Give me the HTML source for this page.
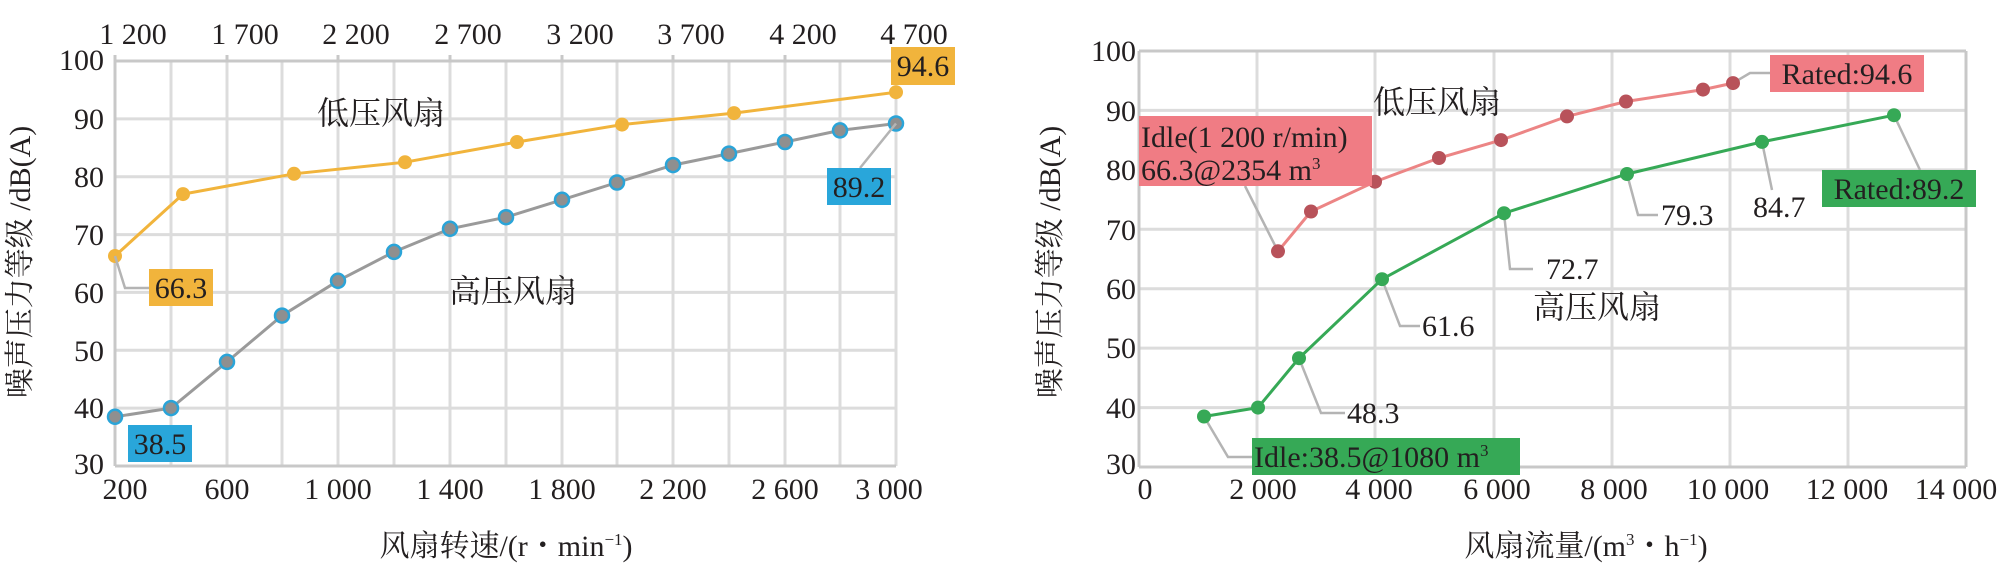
<!DOCTYPE html>
<html><head><meta charset="utf-8"><style>
html,body{margin:0;padding:0;background:#fff;}
svg{display:block;}
text{font-family:"Liberation Serif","Noto Serif CJK SC","Noto Sans CJK SC",serif;fill:#231f20;}
.t{font-size:30px;}
.c{font-size:32px;}
.g{stroke:#dcdcdc;stroke-width:3;fill:none;}
.ax{stroke:#c8c8c8;stroke-width:3;fill:none;}
.ld{stroke:#b4b4b4;stroke-width:2.5;fill:none;}
</style></head><body>
<svg width="2008" height="567" viewBox="0 0 2008 567" xmlns="http://www.w3.org/2000/svg">
<!-- LEFT CHART -->
<g>
<g class="g">
<line x1="115" y1="118.9" x2="896" y2="118.9"/><line x1="115" y1="176.7" x2="896" y2="176.7"/>
<line x1="115" y1="234.6" x2="896" y2="234.6"/><line x1="115" y1="292.4" x2="896" y2="292.4"/>
<line x1="115" y1="350.3" x2="896" y2="350.3"/><line x1="115" y1="408.1" x2="896" y2="408.1"/>
<line x1="171" y1="61" x2="171" y2="466"/><line x1="227" y1="61" x2="227" y2="466"/>
<line x1="282" y1="61" x2="282" y2="466"/><line x1="338" y1="61" x2="338" y2="466"/>
<line x1="394" y1="61" x2="394" y2="466"/><line x1="450" y1="61" x2="450" y2="466"/>
<line x1="506" y1="61" x2="506" y2="466"/><line x1="562" y1="61" x2="562" y2="466"/>
<line x1="617" y1="61" x2="617" y2="466"/><line x1="673" y1="61" x2="673" y2="466"/>
<line x1="729" y1="61" x2="729" y2="466"/><line x1="785" y1="61" x2="785" y2="466"/>
<line x1="840" y1="61" x2="840" y2="466"/><line x1="896" y1="61" x2="896" y2="466"/>
</g>
<g class="ax">
<line x1="115" y1="61" x2="896" y2="61"/><line x1="115" y1="466" x2="896" y2="466"/>
<line x1="115" y1="55" x2="115" y2="466"/>
<line x1="227" y1="55" x2="227" y2="61"/><line x1="338" y1="55" x2="338" y2="61"/>
<line x1="450" y1="55" x2="450" y2="61"/><line x1="562" y1="55" x2="562" y2="61"/>
<line x1="673" y1="55" x2="673" y2="61"/><line x1="785" y1="55" x2="785" y2="61"/>
<line x1="896" y1="55" x2="896" y2="61"/>
</g>
<g class="t" text-anchor="end">
<text x="104" y="70">100</text><text x="104" y="129">90</text><text x="104" y="187">80</text>
<text x="104" y="245">70</text><text x="104" y="303">60</text><text x="104" y="361">50</text>
<text x="104" y="418">40</text><text x="104" y="474">30</text>
</g>
<g class="t" text-anchor="middle">
<text x="125" y="499">200</text><text x="227" y="499">600</text><text x="338" y="499">1 000</text>
<text x="450" y="499">1 400</text><text x="562" y="499">1 800</text><text x="673" y="499">2 200</text>
<text x="785" y="499">2 600</text><text x="889" y="499">3 000</text>
<text x="133" y="44">1 200</text><text x="245" y="44">1 700</text><text x="356" y="44">2 200</text>
<text x="468" y="44">2 700</text><text x="580" y="44">3 200</text><text x="691" y="44">3 700</text>
<text x="803" y="44">4 200</text><text x="914" y="44">4 700</text>
<text x="506" y="556">风扇转速/(r・min<tspan font-size="17" dy="-11">−1</tspan><tspan dy="11">)</tspan></text>
</g>
<text class="t" text-anchor="middle" transform="translate(30,262) rotate(-90)">噪声压力等级 /dB(A)</text>
<text class="c" x="317" y="124">低压风扇</text>
<text class="c" x="449" y="302">高压风扇</text>
<polyline fill="none" stroke="#f1b43c" stroke-width="3" points="115,256 183,194.1 294,173.8 405,162.2 517,142 622,124.6 734,113.1 896,92.2"/>
<g fill="#f1b43c">
<circle cx="115" cy="256" r="7"/><circle cx="183" cy="194.1" r="7"/><circle cx="294" cy="173.8" r="7"/>
<circle cx="405" cy="162.2" r="7"/><circle cx="517" cy="142" r="7"/><circle cx="622" cy="124.6" r="7"/>
<circle cx="734" cy="113.1" r="7"/><circle cx="896" cy="92.2" r="7"/>
</g>
<polyline fill="none" stroke="#9a9a9a" stroke-width="3" points="115,416.8 171,408.1 227,361.9 282,315.6 338,280.8 394,251.9 450,228.8 506,217.2 562,199.8 617,182.5 673,165.1 729,153.6 785,142 840,130.4 896,123.5"/>
<g fill="#8f8f8f" stroke="#2aa4d8" stroke-width="2.5">
<circle cx="115" cy="416.8" r="7"/><circle cx="171" cy="408.1" r="7"/><circle cx="227" cy="361.9" r="7"/>
<circle cx="282" cy="315.6" r="7"/><circle cx="338" cy="280.8" r="7"/><circle cx="394" cy="251.9" r="7"/>
<circle cx="450" cy="228.8" r="7"/><circle cx="506" cy="217.2" r="7"/><circle cx="562" cy="199.8" r="7"/>
<circle cx="617" cy="182.5" r="7"/><circle cx="673" cy="165.1" r="7"/><circle cx="729" cy="153.6" r="7"/>
<circle cx="785" cy="142" r="7"/><circle cx="840" cy="130.4" r="7"/><circle cx="896" cy="123.5" r="7"/>
</g>
<polyline class="ld" points="115,256 125,288 149,288"/>
<rect x="149" y="269" width="64" height="37" fill="#f1b43c"/><text class="t" x="181" y="298" text-anchor="middle">66.3</text>
<rect x="891" y="47" width="64" height="38" fill="#f1b43c"/><text class="t" x="923" y="76" text-anchor="middle">94.6</text>
<polyline class="ld" points="896,123.5 860,168"/>
<rect x="827" y="168" width="64" height="37" fill="#29a6da"/><text class="t" x="859" y="197" text-anchor="middle">89.2</text>
<rect x="128" y="425" width="64" height="37" fill="#29a6da"/><text class="t" x="160" y="454" text-anchor="middle">38.5</text>
</g>

<!-- RIGHT CHART -->
<g>
<g class="g">
<line x1="1139" y1="110.4" x2="1966" y2="110.4"/><line x1="1139" y1="169.9" x2="1966" y2="169.9"/>
<line x1="1139" y1="229.3" x2="1966" y2="229.3"/><line x1="1139" y1="288.7" x2="1966" y2="288.7"/>
<line x1="1139" y1="348.1" x2="1966" y2="348.1"/><line x1="1139" y1="407.6" x2="1966" y2="407.6"/>
<line x1="1257" y1="51" x2="1257" y2="467"/><line x1="1375" y1="51" x2="1375" y2="467"/>
<line x1="1494" y1="51" x2="1494" y2="467"/><line x1="1612" y1="51" x2="1612" y2="467"/>
<line x1="1730" y1="51" x2="1730" y2="467"/><line x1="1848" y1="51" x2="1848" y2="467"/>
</g>
<g class="ax">
<line x1="1139" y1="51" x2="1966" y2="51"/><line x1="1139" y1="467" x2="1966" y2="467"/>
<line x1="1139" y1="51" x2="1139" y2="467"/><line x1="1966" y1="51" x2="1966" y2="467"/>
</g>
<g class="t" text-anchor="end">
<text x="1136" y="61">100</text><text x="1136" y="121">90</text><text x="1136" y="180">80</text>
<text x="1136" y="240">70</text><text x="1136" y="299">60</text><text x="1136" y="358">50</text>
<text x="1136" y="418">40</text><text x="1136" y="474">30</text>
</g>
<g class="t" text-anchor="middle">
<text x="1145" y="499">0</text><text x="1263" y="499">2 000</text><text x="1379" y="499">4 000</text>
<text x="1497" y="499">6 000</text><text x="1614" y="499">8 000</text><text x="1728" y="499">10 000</text>
<text x="1847" y="499">12 000</text><text x="1956" y="499">14 000</text>
<text x="1586" y="556">风扇流量/(m<tspan font-size="17" dy="-11">3</tspan><tspan dy="11">・h</tspan><tspan font-size="17" dy="-11">−1</tspan><tspan dy="11">)</tspan></text>
</g>
<text class="t" text-anchor="middle" transform="translate(1060,262) rotate(-90)">噪声压力等级 /dB(A)</text>
<text class="c" x="1373" y="113">低压风扇</text>
<text class="c" x="1533" y="318">高压风扇</text>
<g class="ld">
<polyline points="1278,251.3 1245,186"/>
<polyline points="1733,83.1 1750,73 1770,73"/>
<polyline points="1894,115.2 1920,170"/>
<polyline points="1204,416.5 1228,457 1252,457"/>
<polyline points="1299,358.2 1321,413 1345,413"/>
<polyline points="1382,279.2 1400,326 1420,326"/>
<polyline points="1504,213.2 1510,269 1533,269"/>
<polyline points="1627,174 1638,215 1658,215"/>
<polyline points="1762,141.9 1772,190"/>
</g>
<polyline fill="none" stroke="#ec8585" stroke-width="3" points="1278,251.3 1311,211.5 1375,181.7 1439,158 1501,140.1 1567,116.4 1626,101.5 1703,89.6 1733,83.1"/>
<g fill="#b8525a">
<circle cx="1278" cy="251.3" r="7"/><circle cx="1311" cy="211.5" r="7"/><circle cx="1375" cy="181.7" r="7"/>
<circle cx="1439" cy="158" r="7"/><circle cx="1501" cy="140.1" r="7"/><circle cx="1567" cy="116.4" r="7"/>
<circle cx="1626" cy="101.5" r="7"/><circle cx="1703" cy="89.6" r="7"/><circle cx="1733" cy="83.1" r="7"/>
</g>
<polyline fill="none" stroke="#36a956" stroke-width="3" points="1204,416.5 1258,407.6 1299,358.2 1382,279.2 1504,213.2 1627,174 1762,141.9 1894,115.2"/>
<g fill="#36a956">
<circle cx="1204" cy="416.5" r="7"/><circle cx="1258" cy="407.6" r="7"/><circle cx="1299" cy="358.2" r="7"/>
<circle cx="1382" cy="279.2" r="7"/><circle cx="1504" cy="213.2" r="7"/><circle cx="1627" cy="174" r="7"/>
<circle cx="1762" cy="141.9" r="7"/><circle cx="1894" cy="115.2" r="7"/>
</g>
<rect x="1139" y="116" width="233" height="70" fill="#f07c84"/>
<text class="t" x="1141" y="147">Idle(1 200 r/min)</text>
<text class="t" x="1141" y="180">66.3@2354 m<tspan font-size="17" dy="-11">3</tspan></text>
<rect x="1770" y="55" width="154" height="37" fill="#f07c84"/><text class="t" x="1847" y="84" text-anchor="middle">Rated:94.6</text>
<rect x="1822" y="170" width="154" height="37" fill="#36a956"/><text class="t" x="1899" y="199" text-anchor="middle">Rated:89.2</text>
<rect x="1252" y="438" width="268" height="37" fill="#36a956"/><text class="t" x="1254" y="467">Idle:38.5@1080 m<tspan font-size="17" dy="-11">3</tspan></text>
<g class="t">
<text x="1347" y="423">48.3</text><text x="1422" y="336">61.6</text><text x="1546" y="279">72.7</text>
<text x="1661" y="225">79.3</text><text x="1753" y="217">84.7</text>
</g>
</g>
</svg>
</body></html>
